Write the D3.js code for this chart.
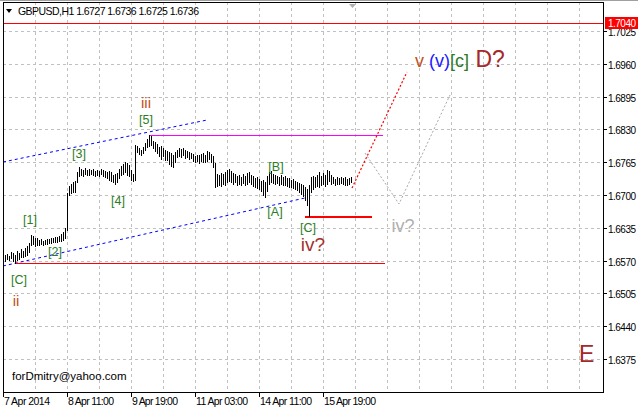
<!DOCTYPE html>
<html><head><meta charset="utf-8">
<script src="https://cdn.jsdelivr.net/npm/d3@7"></script>
<style>
html,body{margin:0;padding:0;background:#fff;}
svg{display:block;}
text{font-family:"Liberation Sans",Arial,sans-serif;}
</style></head>
<body>
<svg id="c" width="638" height="409"></svg>
<script>
// ---------- DATA ----------
const symbolTitle = "GBPUSD,H1";
const lastOHLC = ["1.6727", "1.6736", "1.6725", "1.6736"];
const currentPrice = 1.7040;
const priceTicks = [1.6375,1.6440,1.6505,1.6570,1.6635,1.6700,1.6765,1.6830,1.6895,1.6960,1.7025];
const timeTickIndex = [-1, 31, 63, 95, 127, 159];
const timeTickLabels = ["7 Apr 2014","8 Apr 11:00","9 Apr 19:00","11 Apr 03:00","14 Apr 11:00","15 Apr 19:00"];
const barHigh = [
1.6581,1.6583,1.6580,1.6588,1.6585,1.6582,1.6590,1.6586,1.6592,1.6589,
1.6595,1.6598,1.6605,1.6621,1.6618,1.6614,1.6614,1.6610,1.6612,1.6609,
1.6611,1.6613,1.6612,1.6615,1.6614,1.6617,1.6616,1.6619,1.6622,1.6626,
1.6635,1.6704,1.6718,1.6722,1.6725,1.6728,1.6745,1.6755,1.6752,1.6750,
1.6753,1.6749,1.6752,1.6750,1.6751,1.6748,1.6750,1.6747,1.6752,1.6750,
1.6748,1.6745,1.6748,1.6745,1.6740,1.6742,1.6744,1.6752,1.6757,1.6762,
1.6765,1.6763,1.6760,1.6750,1.6742,1.6799,1.6797,1.6793,1.6790,1.6796,
1.6803,1.6810,1.6819,1.6817,1.6808,1.6805,1.6802,1.6795,1.6797,1.6793,
1.6790,1.6787,1.6785,1.6783,1.6780,1.6786,1.6790,1.6793,1.6791,1.6794,
1.6790,1.6788,1.6786,1.6784,1.6782,1.6778,1.6780,1.6779,1.6781,1.6783,
1.6779,1.6787,1.6785,1.6782,1.6778,1.6763,1.6742,1.6740,1.6744,1.6741,
1.6745,1.6750,1.6752,1.6748,1.6744,1.6742,1.6738,1.6740,1.6736,1.6742,
1.6738,1.6744,1.6746,1.6740,1.6738,1.6734,1.6736,1.6732,1.6728,1.6730,
1.6725,1.6738,1.6745,1.6747,1.6742,1.6740,1.6738,1.6736,1.6740,1.6735,
1.6737,1.6734,1.6733,1.6730,1.6732,1.6728,1.6726,1.6724,1.6722,1.6720,
1.6716,1.6712,1.6720,1.6736,1.6738,1.6735,1.6740,1.6746,1.6738,1.6744,
1.6740,1.6750,1.6748,1.6740,1.6736,1.6732,1.6735,1.6734,1.6736,1.6733,
1.6735,1.6732,1.6734,1.6736];
const barLow = [
1.6570,1.6573,1.6572,1.6575,1.6570,1.6566,1.6572,1.6574,1.6578,1.6577,
1.6580,1.6582,1.6588,1.6601,1.6603,1.6598,1.6601,1.6600,1.6602,1.6601,
1.6603,1.6602,1.6604,1.6605,1.6606,1.6606,1.6607,1.6608,1.6609,1.6610,
1.6615,1.6631,1.6700,1.6703,1.6706,1.6705,1.6725,1.6738,1.6740,1.6738,
1.6741,1.6739,1.6740,1.6742,1.6739,1.6738,1.6740,1.6738,1.6741,1.6737,
1.6735,1.6733,1.6730,1.6728,1.6726,1.6722,1.6726,1.6734,1.6740,1.6742,
1.6745,1.6739,1.6737,1.6729,1.6727,1.6730,1.6785,1.6781,1.6780,1.6783,
1.6789,1.6795,1.6798,1.6799,1.6793,1.6788,1.6783,1.6777,1.6772,1.6778,
1.6770,1.6770,1.6762,1.6757,1.6755,1.6765,1.6775,1.6778,1.6776,1.6779,
1.6774,1.6776,1.6771,1.6773,1.6768,1.6766,1.6767,1.6764,1.6768,1.6766,
1.6765,1.6768,1.6772,1.6765,1.6755,1.6716,1.6718,1.6720,1.6718,1.6722,
1.6720,1.6725,1.6728,1.6726,1.6722,1.6725,1.6720,1.6722,1.6719,1.6724,
1.6720,1.6722,1.6726,1.6722,1.6718,1.6716,1.6714,1.6712,1.6707,1.6700,
1.6696,1.6708,1.6722,1.6725,1.6724,1.6722,1.6724,1.6720,1.6722,1.6720,
1.6719,1.6718,1.6716,1.6716,1.6714,1.6712,1.6709,1.6706,1.6702,1.6698,
1.6690,1.6680,1.6658,1.6705,1.6712,1.6716,1.6718,1.6716,1.6720,1.6722,
1.6718,1.6722,1.6728,1.6722,1.6724,1.6720,1.6722,1.6721,1.6723,1.6722,
1.6720,1.6719,1.6721,1.6725];

// drawn objects (bar index, price)
const upperChannel = [[-1, 1.67654], [101, 1.68486]];
const lowerChannel = [[-1, 1.65593], [150, 1.66941]];
const level5 = [[72, 1.68189], [189, 1.68189]];
const levelLow = [[5, 1.65652], [190, 1.65652]];
const levelIV = [[150, 1.66584], [183.5, 1.66584]];
const projRed = [[173.5, 1.67139], [201, 1.69438]];
const projGray = [[180, 1.67832], [197, 1.66822], [222.5, 1.68982]];

// wave labels: [bar index, price, text, style]
const waveLabels = [
  [7, 1.6524, "[C]", "g"],
  [5.5, 1.6480, "ii", "o"],
  [12.5, 1.6643, "[1]", "g"],
  [25, 1.6579, "[2]", "g"],
  [37, 1.6774, "[3]", "g"],
  [56.5, 1.6680, "[4]", "g"],
  [70.5, 1.6841, "[5]", "g"],
  [70.5, 1.6872, "iii", "o"],
  [135.5, 1.6748, "[B]", "g"],
  [135, 1.6658, "[A]", "g"],
  [151.5, 1.6627, "[C]", "g"],
];
</script>
<script>
const svg = d3.select("#c");
const L = 3, R = 603, T = 2, B = 392;
const x = d3.scaleLinear().domain([-1, 299]).range([L, R]);
const y = d3.scaleLinear().domain([1.6375, 1.7025]).range([359, 31]);
const px = v => Math.round(v) + 0.5;

// window edge
svg.append("line").attr("x1",0).attr("x2",638).attr("y1",0.5).attr("y2",0.5).attr("stroke","#a0a0a0");

// grid
const g = svg.append("g").attr("stroke","#c0c0c0").attr("stroke-dasharray","3,3").attr("shape-rendering","crispEdges");
priceTicks.forEach(p => g.append("line").attr("x1",L).attr("x2",R).attr("y1",px(y(p))).attr("y2",px(y(p))));
d3.range(15, 299, 16).forEach(i => g.append("line").attr("x1",px(x(i))).attr("x2",px(x(i))).attr("y1",T).attr("y2",B));

// red current price line
svg.append("line").attr("x1",L).attr("x2",R).attr("y1",px(y(currentPrice))).attr("y2",px(y(currentPrice)))
  .attr("stroke","#ff0000").attr("shape-rendering","crispEdges");

const line = d3.line().x(d => x(d[0])).y(d => y(d[1]));
function seg(data, color, dash, w, crisp) {
  const pth = crisp ? "M" + data.map(d => [Math.round(x(d[0])), px(y(d[1]))].join(",")).join("L") : line(data);
  svg.append("path").attr("d", pth).attr("fill","none").attr("stroke",color)
    .attr("stroke-width", w || 1).attr("stroke-dasharray", dash || null)
    .attr("shape-rendering", crisp ? "crispEdges" : null);
}
seg(upperChannel, "#0000ff", "3,3");
seg(lowerChannel, "#0000ff", "3,3");
seg(level5, "#ff00ff", null, 1, true);
seg(levelLow, "#ff0000", null, 1, true);
seg(levelIV, "#ff0000", null, 2, true);
seg(projRed, "#ff0000", "2,2", 1.2);
seg(projGray, "#a8a8a8", "2,2", 1);

// bars
svg.append("g").attr("stroke","#000").attr("shape-rendering","crispEdges")
  .selectAll("line").data(barHigh).join("line")
  .attr("x1",(d,i)=>px(x(i))).attr("x2",(d,i)=>px(x(i)))
  .attr("y1",d=>Math.round(y(d))).attr("y2",(d,i)=>Math.round(y(barLow[i]))+1);

// frame & axes
svg.append("rect").attr("x",L+0.5).attr("y",T+0.5).attr("width",R-L).attr("height",B-T)
  .attr("fill","none").attr("stroke","#000").attr("shape-rendering","crispEdges");

// price axis
const ya = svg.append("g");
priceTicks.forEach(p => {
  const yy = px(y(p));
  ya.append("line").attr("x1",R).attr("x2",R+4).attr("y1",yy).attr("y2",yy).attr("stroke","#000").attr("shape-rendering","crispEdges");
  ya.append("text").attr("x",R+5).attr("y",yy+4).attr("font-size","10px").attr("fill","#000").attr("textLength",28).text(p.toFixed(4));
});
// current price tag
const cy = y(currentPrice);
svg.append("rect").attr("x",R+2).attr("y",Math.round(cy)-6).attr("width",33).attr("height",12).attr("fill","#ff0000");
svg.append("text").attr("x",R+5).attr("y",Math.round(cy)+4).attr("font-size","10px").attr("fill","#fff").attr("textLength",28).text(currentPrice.toFixed(4));

// time axis
timeTickIndex.forEach((ti, k) => {
  const xx = px(x(ti));
  svg.append("line").attr("x1",xx).attr("x2",xx).attr("y1",B).attr("y2",B+5).attr("stroke","#000").attr("shape-rendering","crispEdges");
  svg.append("text").attr("x",xx+0.5).attr("y",405).attr("font-size","10.5px").attr("fill","#000")
    .attr("textLength", timeTickLabels[k].length > 11 ? 52 : 46).text(timeTickLabels[k]);
});

// header
svg.append("path").attr("d","M6,9 L12,9 L9,13 Z").attr("fill","#000");
svg.append("text").attr("x",18).attr("y",15).attr("font-size","10.5px").attr("fill","#000")
  .attr("textLength",181).attr("lengthAdjust","spacing")
  .text(symbolTitle + "  " + lastOHLC.join(" "));
svg.append("path").attr("d","M349,4 L356,4 L352.5,8 Z").attr("fill","#b0b0b0");

// wave labels
const colors = {g:"#2d7d1f", o:"#c4501c"};
waveLabels.forEach(d => {
  svg.append("text").attr("x", x(d[0])).attr("y", y(d[1])).attr("text-anchor","middle")
    .attr("font-size", d[3]==="g" ? "12.5px" : "15px").attr("fill", colors[d[3]]).text(d[2]);
});
svg.append("text").attr("x", x(154)).attr("y", y(1.6589)).attr("text-anchor","middle")
  .attr("font-size","19px").attr("fill","#a5302a").text("iv?");
svg.append("text").attr("x", x(199)).attr("y", y(1.6627)).attr("text-anchor","middle")
  .attr("font-size","18px").attr("fill","#b0b0b0").text("iv?");

// top target label
const tl = svg.append("text").attr("x", x(205)).attr("y", y(1.6954)).attr("font-size","18px");
tl.append("tspan").attr("fill","#c4501c").text("v ");
tl.append("tspan").attr("fill","#1a1aff").text("(v)");
tl.append("tspan").attr("fill","#2d7d1f").text("[c]");
tl.append("tspan").attr("fill","#a5282a").attr("font-size","23px").text(" D?");

svg.append("text").attr("x", x(287)).attr("y", y(1.6375)+3).attr("font-size","23px").attr("fill","#a5282a").text("E");

svg.append("text").attr("x",12).attr("y",380).attr("font-family","'Liberation Serif',serif").attr("font-size","11.5px")
  .attr("fill","#000").text("forDmitry@yahoo.com");
</script>
</body></html>
